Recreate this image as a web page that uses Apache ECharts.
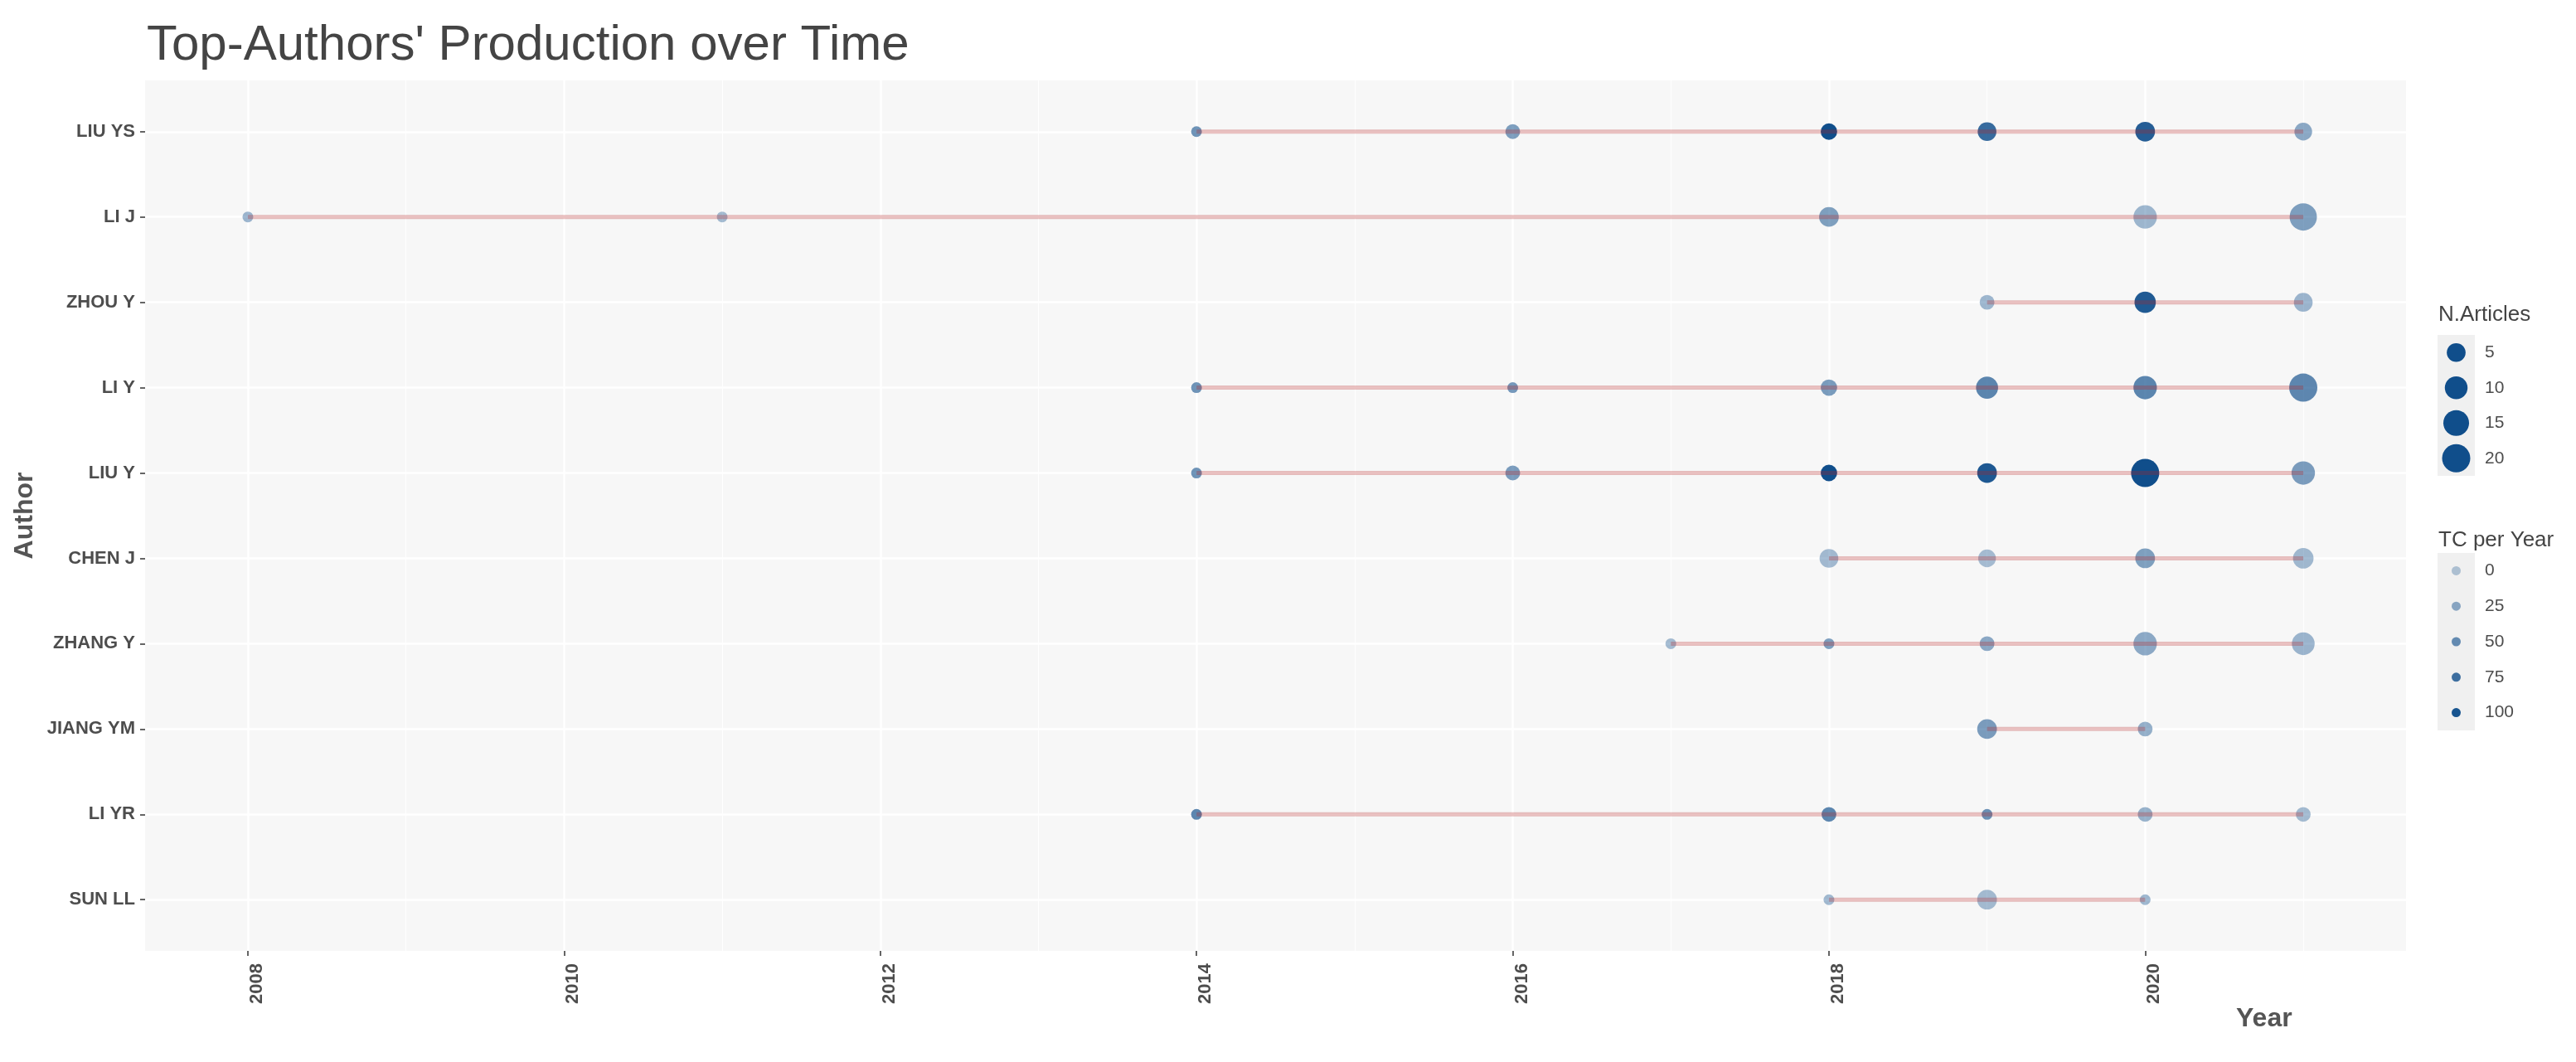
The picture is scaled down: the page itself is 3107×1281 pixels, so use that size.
<!DOCTYPE html>
<html>
<head>
<meta charset="utf-8">
<title>Top-Authors' Production over Time</title>
<script src="https://cdn.jsdelivr.net/npm/echarts@6.0.0/dist/echarts.min.js"></script>
<style>
  html, body { margin: 0; padding: 0; background: #fff; }
  #chart { width: 3107px; height: 1281px; }
</style>
</head>
<body>
<div id="chart"></div>
<script>
// authors, top to bottom
const authors = ["LIU YS", "LI J", "ZHOU Y", "LI Y", "LIU Y", "CHEN J", "ZHANG Y", "JIANG YM", "LI YR", "SUN LL"];
// publication years per author
const years = [
  [2014, 2016, 2018, 2019, 2020, 2021],
  [2008, 2011, 2018, 2020, 2021],
  [2019, 2020, 2021],
  [2014, 2016, 2018, 2019, 2020, 2021],
  [2014, 2016, 2018, 2019, 2020, 2021],
  [2018, 2019, 2020, 2021],
  [2017, 2018, 2019, 2020, 2021],
  [2019, 2020],
  [2014, 2018, 2019, 2020, 2021],
  [2018, 2019, 2020]
];
// N.Articles per author and year
const articles = [
  [1, 2, 3, 5, 6, 4],
  [1, 1, 6, 11, 18],
  [2, 8, 5],
  [1, 1, 3, 9, 11, 20],
  [1, 2, 3, 6, 20, 11],
  [5, 4, 6, 7],
  [1, 1, 2, 11, 10],
  [6, 2],
  [1, 2, 1, 2, 2],
  [1, 6, 1]
];
// TC per Year per author and year
const tcPerYear = [
  [45, 35, 105, 80, 92, 26],
  [15, 10, 33, 14, 34],
  [14, 95, 15],
  [45, 40, 37, 57, 57, 55],
  [45, 36, 105, 96, 105, 36],
  [11, 9, 33, 12],
  [10, 34, 26, 25, 15],
  [36, 20],
  [57, 57, 47, 18, 10],
  [12, 10, 14]
];
const yearTicks = [2008, 2010, 2012, 2014, 2016, 2018, 2020];
const minorYears = [2009, 2011, 2013, 2015, 2017, 2019, 2021];
const sizeBreaks = [5, 10, 15, 20];
const tcBreaks = [0, 25, 50, 75, 100];

const FONT = "Liberation Sans";
const TEXT = "#4d4d4d";

// area-like size scale, 1..20 articles
function dotSize(n) {
  return 13 + 21 * Math.sqrt((n - 1) / 19);
}
// alpha scale on dodgerblue4
function dotColor(tc) {
  let a = 0.3 + 0.7 * Math.min(tc, 105) / 105;
  return "rgba(16,78,139," + a.toFixed(3) + ")";
}

let points = [];
authors.forEach((a, i) => {
  years[i].forEach((y, j) => {
    points.push({
      value: [y, i, articles[i][j], tcPerYear[i][j]],
      itemStyle: { color: dotColor(tcPerYear[i][j]) }
    });
  });
});

let lineSeries = authors.map((a, i) => ({
  name: a,
  type: "line",
  xAxisIndex: 0,
  yAxisIndex: 0,
  data: years[i].map(y => [y, i]),
  symbol: "none",
  silent: true,
  z: 3,
  lineStyle: { color: "rgba(178,34,34,0.28)", width: 5 }
}));

let myChart = echarts.init(document.getElementById("chart"));
myChart.setOption({
  animation: false,
  backgroundColor: "#fff",
  textStyle: { fontFamily: FONT },
  title: [
    {
      text: "Top-Authors' Production over Time",
      left: 172,
      top: 20,
      textStyle: { fontFamily: FONT, fontSize: 60, fontWeight: "normal", color: "#444" }
    },
    {
      text: "N.Articles",
      left: 2936,
      top: 362,
      textStyle: { fontFamily: FONT, fontSize: 26, fontWeight: "normal", color: "#444" }
    },
    {
      text: "TC per Year",
      left: 2936,
      top: 634,
      textStyle: { fontFamily: FONT, fontSize: 26, fontWeight: "normal", color: "#444" }
    }
  ],
  graphic: [
    {
      type: "text",
      left: 2697,
      top: 1213,
      style: { text: "Year", font: "bold 32px 'Liberation Sans'", fill: "#555" }
    }
  ],
  grid: [
    { left: 175, right: 205, top: 97, bottom: 134, show: true, backgroundColor: "#f7f7f7", borderWidth: 0 },
    // legend keys
    { left: 2940, top: 404, width: 45, height: 170, show: true, backgroundColor: "#f0f0f0", borderWidth: 0 },
    { left: 2940, top: 667, width: 45, height: 214, show: true, backgroundColor: "#f0f0f0", borderWidth: 0 }
  ],
  xAxis: [
    {
      gridIndex: 0,
      type: "value",
      min: 2007.35,
      max: 2021.65,
      axisLine: { show: false, onZero: false },
      axisTick: { customValues: yearTicks, length: 6, lineStyle: { color: "#333", width: 1.5 } },
      axisLabel: {
        customValues: yearTicks,
        rotate: 90,
        margin: 15,
        verticalAlign: "top",
        fontFamily: FONT,
        fontSize: 22,
        fontWeight: "bold",
        color: TEXT,
        formatter: v => String(v)
      },
      splitLine: { show: true, lineStyle: { color: "#fff", width: 2.5 } }
    },
    {
      // minor grid lines at odd years
      gridIndex: 0,
      type: "value",
      position: "top",
      min: 2007.35,
      max: 2021.65,
      axisLine: { show: false, onZero: false },
      axisTick: { show: false, customValues: minorYears },
      axisLabel: { show: false, customValues: minorYears },
      splitLine: { show: true, lineStyle: { color: "#fff", width: 1.2 } }
    },
    { gridIndex: 1, type: "category", data: ["k"], show: false },
    { gridIndex: 2, type: "category", data: ["k"], show: false }
  ],
  yAxis: [
    {
      gridIndex: 0,
      type: "value",
      min: -0.6,
      max: 9.6,
      inverse: true,
      name: "Author",
      nameLocation: "middle",
      nameRotate: 90,
      nameGap: 123,
      nameTextStyle: { fontFamily: FONT, fontSize: 32, fontWeight: "bold", color: "#555" },
      axisLine: { show: false, onZero: false },
      axisTick: { customValues: authors.map((a, i) => i), length: 6, lineStyle: { color: "#333", width: 1.5 } },
      axisLabel: {
        customValues: authors.map((a, i) => i),
        margin: 12,
        fontFamily: FONT,
        fontSize: 22,
        fontWeight: "bold",
        color: TEXT,
        formatter: v => authors[v]
      },
      splitLine: { show: true, lineStyle: { color: "#fff", width: 2.5 } }
    },
    {
      gridIndex: 1,
      type: "category",
      data: sizeBreaks.map(String),
      inverse: true,
      position: "right",
      axisLine: { show: false },
      axisTick: { show: false },
      splitLine: { show: false },
      axisLabel: { margin: 12, fontFamily: FONT, fontSize: 21, color: TEXT }
    },
    {
      gridIndex: 2,
      type: "category",
      data: tcBreaks.map(String),
      inverse: true,
      position: "right",
      axisLine: { show: false },
      axisTick: { show: false },
      splitLine: { show: false },
      axisLabel: { margin: 12, fontFamily: FONT, fontSize: 21, color: TEXT }
    }
  ],
  series: [
    {
      name: "authors",
      type: "scatter",
      xAxisIndex: 0,
      yAxisIndex: 0,
      z: 2,
      data: points,
      itemStyle: { opacity: 1 },
      symbolSize: v => dotSize(v[2])
    },
    ...lineSeries,
    {
      name: "N.Articles",
      type: "scatter",
      xAxisIndex: 2,
      yAxisIndex: 1,
      silent: true,
      data: sizeBreaks.map(v => ({ value: ["k", String(v)], symbolSize: dotSize(v) })),
      itemStyle: { color: "#104e8b", opacity: 1 }
    },
    {
      name: "TC per Year",
      type: "scatter",
      xAxisIndex: 3,
      yAxisIndex: 2,
      silent: true,
      symbolSize: 11,
      itemStyle: { opacity: 1 },
      data: tcBreaks.map(v => ({ value: ["k", String(v)], itemStyle: { color: dotColor(v) } }))
    }
  ]
});
</script>
</body>
</html>
